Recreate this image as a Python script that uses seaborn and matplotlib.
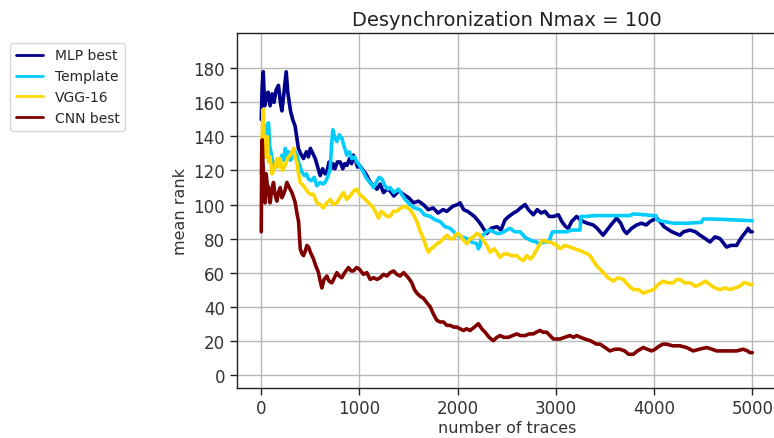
import matplotlib
matplotlib.use("Agg")
import matplotlib.pyplot as plt
import numpy as np
import pandas as pd
import seaborn as sns

# ---- data: mean rank against number of traces, one list pair per model ----
mlp_traces = [0, 10, 20, 35, 50, 70, 90, 110, 130, 150, 175, 195, 210, 230, 254, 270, 285, 298,
              320, 345, 360, 378, 400, 430, 460, 480, 500, 525, 550, 575, 600, 625, 650, 668,
              690, 710, 730, 750, 775, 804, 830, 850, 872, 900, 920, 938, 960, 980, 1000, 1040,
              1075, 1110, 1143, 1177, 1210, 1245, 1280, 1312, 1350, 1400, 1447, 1500, 1550, 1600,
              1650, 1700, 1750, 1800, 1850, 1889, 1950, 2000, 2024, 2060, 2100, 2125, 2170, 2200,
              2228, 2260, 2296, 2340, 2400, 2440, 2482, 2520, 2568, 2600, 2640, 2686, 2720, 2770,
              2810, 2850, 2889, 2930, 2975, 3025, 3060, 3100, 3126, 3160, 3210, 3250, 3278, 3320,
              3380, 3420, 3480, 3520, 3560, 3618, 3660, 3690, 3720, 3770, 3822, 3870, 3920, 3957,
              4025, 4060, 4100, 4127, 4180, 4220, 4262, 4300, 4364, 4420, 4466, 4520, 4568, 4620,
              4670, 4710, 4737, 4780, 4840, 4870, 4906, 4935, 4957, 4980, 4999]
mlp_rank = [150, 170, 178, 158, 162, 166, 158, 165, 160, 167, 170, 160, 155, 165, 178, 166, 160, 155,
            150, 146, 140, 133, 130, 127, 131, 128, 133, 130, 127, 122, 117, 121, 118, 119,
            125, 121, 124, 121, 125, 125, 121, 124, 123, 127, 124, 129, 126, 122, 123, 120,
            117, 113, 111, 109, 112, 107, 109, 108, 105, 108, 106, 104, 101, 102,
            100, 97, 98, 95, 97, 96, 99, 100, 101, 97, 96, 95, 93, 91,
            89, 86, 83, 86, 87, 85, 91, 93, 95, 96, 98, 100, 97, 94,
            97, 95, 96, 93, 93, 94, 90, 87, 86, 90, 93, 91, 90, 89,
            88, 86, 82, 85, 88, 92, 89, 85, 83, 86, 88, 89, 88, 90,
            92, 90, 87, 86, 84, 83, 82, 84, 85, 84, 82, 80, 78, 81,
            80, 77, 75, 76, 76, 79, 82, 84, 86, 84, 84]

template_traces = [0, 15, 30, 50, 74, 85, 110, 135, 160, 185, 210, 230, 244, 262, 278, 295, 312,
                   335, 362, 385, 414, 440, 460, 481, 510, 540, 566, 600, 630, 650, 675, 702, 715,
                   729, 745, 770, 795, 820, 845, 871, 895, 922, 950, 973, 1000, 1041, 1065, 1092,
                   1120, 1143, 1170, 1200, 1228, 1260, 1290, 1312, 1350, 1396, 1430, 1465, 1516,
                   1560, 1617, 1660, 1720, 1770, 1821, 1870, 1923, 1960, 1991, 2040, 2092, 2140,
                   2194, 2210, 2228, 2245, 2262, 2290, 2330, 2364, 2400, 2431, 2470, 2500, 2533,
                   2580, 2635, 2668, 2680, 2740, 2804, 2821, 2880, 2930, 2950, 2965, 3008, 3060,
                   3110, 3160, 3211, 3245, 3255, 3300, 3400, 3500, 3600, 3754, 3788, 3900, 3991,
                   4020, 4025, 4100, 4200, 4330, 4480, 4500, 4600, 4800, 4999]
template_rank = [118, 135, 128, 146, 148, 135, 127, 121, 126, 124, 129, 126, 133, 129, 131, 126, 127,
                 132, 129, 124, 119, 117, 118, 115, 114, 116, 111, 113, 112, 113, 116, 121, 134,
                 144, 140, 137, 141, 139, 134, 129, 131, 127, 128, 125, 123, 119, 116, 114,
                 112, 110, 113, 116, 115, 111, 109, 110, 107, 109, 106, 103, 100,
                 98, 97, 94, 93, 91, 90, 87, 86, 84, 82, 81, 80, 78,
                 77, 74, 76, 82, 82, 84, 85, 84, 83, 83, 84, 85, 86,
                 84, 84, 82, 81, 79, 78, 77, 78, 78, 82, 84, 84, 84,
                 84, 85, 85, 85, 93, 93, 93.5, 93.5, 93.5, 93.5, 94.5, 94, 93.5,
                 93.5, 91, 90, 89, 89, 89.5, 91.5, 91.5, 91, 90.5]

vgg_traces = [0, 10, 20, 30, 45, 60, 74, 90, 110, 135, 160, 175, 193, 215, 244, 265, 295, 315, 328,
              345, 362, 380, 397, 430, 465, 500, 532, 566, 600, 634, 665, 702, 735, 770, 800, 837,
              870, 905, 940, 973, 1000, 1041, 1092, 1143, 1170, 1194, 1220, 1245, 1280, 1312, 1345,
              1380, 1420, 1465, 1516, 1550, 1584, 1620, 1651, 1680, 1702, 1730, 1753, 1790, 1821,
              1855, 1889, 1920, 1957, 1990, 2024, 2060, 2092, 2130, 2160, 2195, 2228, 2260, 2296,
              2330, 2370, 2398, 2432, 2470, 2500, 2550, 2601, 2640, 2669, 2703, 2740, 2770, 2800,
              2821, 2850, 2872, 2910, 2940, 2974, 3010, 3042, 3090, 3143, 3190, 3245, 3278, 3320,
              3347, 3380, 3414, 3450, 3482, 3530, 3584, 3630, 3686, 3730, 3788, 3840, 3890, 3940,
              3991, 4040, 4093, 4140, 4195, 4230, 4262, 4310, 4364, 4420, 4466, 4520, 4568, 4620,
              4670, 4720, 4771, 4820, 4873, 4910, 4940, 4970, 4999]
vgg_rank = [125, 140, 156, 138, 128, 140, 125, 128, 118, 121, 127, 122, 127, 120, 123, 127, 129, 131, 133,
            128, 125, 118, 113, 111, 108, 106, 106, 101, 100, 98, 101, 103, 100, 101, 104, 107,
            103, 105, 108, 109, 106, 104, 101, 98, 95, 92, 96, 95, 93, 93, 96,
            96, 98, 99, 97, 94, 90, 84, 80, 75, 72, 74, 75, 77, 78,
            80, 82, 80, 80, 83, 82, 79, 77, 80, 81, 83, 82, 79, 76,
            72, 74, 72, 69, 71, 71, 70, 70, 68, 67, 70, 68, 70, 73,
            75, 78, 79, 78, 78, 77, 76, 74, 76, 75, 74, 73, 72, 71,
            70, 67, 64, 62, 60, 57, 55, 57, 56, 53, 50, 50, 48, 49,
            50, 53, 55, 54, 54, 56, 56, 54, 54, 52, 53, 55, 53, 51,
            50, 51, 50, 51, 52, 54, 54, 53, 53]

cnn_traces = [0, 5, 10, 17, 24, 32, 40, 50, 60, 74, 82, 90, 105, 125, 140, 159, 175, 193, 210, 227,
              245, 261, 285, 312, 330, 346, 363, 380, 390, 397, 415, 431, 450, 465, 482, 500, 532,
              555, 583, 600, 617, 640, 668, 690, 719, 745, 770, 795, 820, 850, 888, 915, 939, 970,
              1000, 1040, 1075, 1109, 1143, 1180, 1211, 1245, 1279, 1313, 1346, 1380, 1414, 1450,
              1482, 1510, 1533, 1560, 1584, 1620, 1651, 1690, 1719, 1750, 1787, 1820, 1855, 1890,
              1923, 1960, 1991, 2025, 2058, 2090, 2126, 2170, 2211, 2245, 2279, 2320, 2363, 2400,
              2431, 2470, 2516, 2560, 2601, 2640, 2686, 2730, 2770, 2800, 2838, 2870, 2906, 2940,
              2974, 3010, 3041, 3090, 3143, 3180, 3211, 3250, 3296, 3350, 3414, 3449, 3500, 3550,
              3600, 3652, 3700, 3740, 3787, 3830, 3889, 3930, 3974, 4010, 4056, 4090, 4124, 4190,
              4262, 4330, 4398, 4460, 4534, 4590, 4636, 4700, 4771, 4840, 4907, 4950, 4975, 4999]
cnn_rank = [84, 130, 138, 125, 117, 108, 101, 118, 112, 110, 104, 101, 108, 113, 106, 102, 107, 110, 104, 106,
            109, 113, 110, 107, 104, 101, 95, 90, 80, 74, 71, 70, 73, 76, 75, 72, 68,
            64, 60, 55, 51, 56, 58, 55, 54, 57, 60, 58, 57, 60, 63, 61, 61, 63,
            62, 59, 60, 56, 57, 56, 57, 59, 58, 60, 61, 59, 58, 60,
            58, 56, 54, 50, 48, 46, 45, 42, 40, 36, 32, 31, 31, 29,
            29, 28, 28, 27, 26, 27, 26, 28, 30, 27, 25, 22, 20, 22,
            23, 22, 22, 23, 24, 23, 23, 24, 24, 25, 26, 25, 25, 23,
            21, 21, 21, 22, 23, 22, 23, 22, 21, 20, 18, 18, 16, 14,
            15, 15, 14, 12, 12, 14, 16, 15, 14, 15, 17, 18, 18, 17,
            17, 16, 14, 15, 16, 15, 14, 14, 14, 14, 15, 14, 13, 13]

models = ["MLP best", "Template", "VGG-16", "CNN best"]
colors = ["#00008b", "#00ccff", "#ffd700", "#800000"]
title = "Desynchronization Nmax = 100"

frames = []
for name, xs, ys in zip(models,
                        [mlp_traces, template_traces, vgg_traces, cnn_traces],
                        [mlp_rank, template_rank, vgg_rank, cnn_rank]):
    frames.append(pd.DataFrame({"traces": xs, "rank": ys, "model": name}))
df = pd.concat(frames, ignore_index=True)

sns.set_style("ticks")
plt.rcParams["font.family"] = ["DejaVu Sans"]

fig = plt.figure(figsize=(7.74, 4.39), dpi=100)
ax = fig.add_axes([0.3058, 0.1146, 0.698, 0.8073])

sns.lineplot(data=df, x="traces", y="rank", hue="model", hue_order=models,
             palette=dict(zip(models, colors)), estimator=None, sort=False,
             linewidth=2.6, ax=ax)

ax.set_xlim(-250, 5250)
ax.set_ylim(-7.6, 200.6)
ax.set_xticks([0, 1000, 2000, 3000, 4000, 5000])
ax.set_yticks(np.arange(0, 181, 20))
ax.grid(True, color="#b8b8b8", linewidth=1.0)
ax.set_axisbelow(True)
for side in ["left", "bottom", "top", "right"]:
    ax.spines[side].set_color("#222222")
    ax.spines[side].set_linewidth(1.0)
ax.tick_params(axis="both", labelsize=12, length=5, width=1.0, colors="#222222",
               labelcolor="#333333")

ax.set_xlabel("number of traces", fontsize=11.5, color="#333333", labelpad=2)
ax.set_ylabel("mean rank", fontsize=11.5, color="#333333")
ax.set_title(title, fontsize=14, color="#222222")

leg = ax.legend(loc="upper left", bbox_to_anchor=(0.013, 0.9), bbox_transform=fig.transFigure,
                borderaxespad=0, fontsize=10, frameon=True, handlelength=2.0)
leg.get_frame().set_edgecolor("#cccccc")
for line in leg.get_lines():
    line.set_linewidth(2.0)

fig.savefig("out.png", dpi=100)
